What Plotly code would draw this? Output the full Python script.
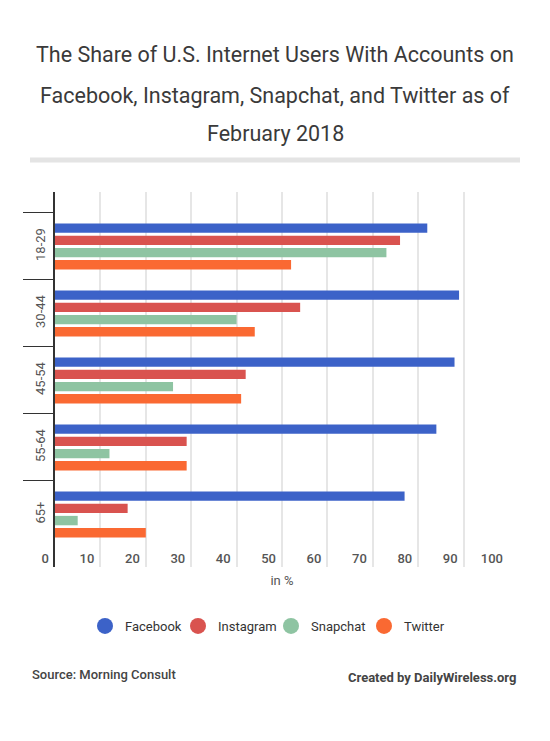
import plotly.graph_objects as go

age_groups = ["18-29", "30-44", "45-54", "55-64", "65+"]
facebook = [82, 89, 88, 84, 77]
instagram = [76, 54, 42, 29, 16]
snapchat = [73, 40, 26, 12, 5]
twitter = [52, 44, 41, 29, 20]
x_ticks = [0, 10, 20, 30, 40, 50, 60, 70, 80, 90, 100]

series = [
    ("Facebook", facebook, "#3C62C8"),
    ("Instagram", instagram, "#D9534F"),
    ("Snapchat", snapchat, "#8EC4A2"),
    ("Twitter", twitter, "#FA6932"),
]

FONT = "Roboto"
fig = go.Figure()
for name, vals, color in series:
    fig.add_trace(go.Bar(
        y=age_groups, x=vals, name=name, orientation="h",
        marker=dict(color=color, line=dict(width=0)),
        showlegend=False, hoverinfo="x+y",
    ))
for name, vals, color in series:
    fig.add_trace(go.Scatter(
        x=[None], y=[None], mode="markers", name=name,
        marker=dict(color=color, size=16, symbol="circle"),
        showlegend=True,
    ))

W, H = 550, 741
L, R, T, B = 55, 41, 192, 174
plot_h = H - T - B


def py(px):
    return (H - B - px) / plot_h


def pxx(px):
    return (px - L) / (W - L - R)


fig.update_layout(
    width=W, height=H,
    margin=dict(l=L, r=R, t=T, b=B, pad=0),
    paper_bgcolor="white", plot_bgcolor="white",
    font=dict(family=FONT, color="#444"),
    barmode="group", bargap=0.27, bargroupgap=0.23,
    showlegend=True,
    legend=dict(orientation="h", x=pxx(85), xanchor="left",
                y=py(626), yanchor="middle",
                font=dict(size=13, color="#333", family=FONT),
                itemwidth=30, entrywidth=48, entrywidthmode="pixels",
                traceorder="normal"),
    xaxis=dict(
        range=[0, 100], tickvals=x_ticks, ticktext=[str(v) for v in x_ticks],
        showgrid=True, gridcolor="#e6e6e6", gridwidth=1.5,
        zeroline=False, showline=False,
        ticks="", ticklabelposition="outside left", ticklabelstandoff=-18,
        ticklabelshift=-6,
        tickfont=dict(size=13, color="#555", family=FONT, weight=500),
        title=dict(text="in %", font=dict(size=13, color="#555", family=FONT), standoff=10),
        fixedrange=True,
    ),
    yaxis=dict(
        type="category", categoryorder="array", categoryarray=age_groups,
        range=[4.784, -0.813],
        showgrid=False, zeroline=False,
        showline=True, linecolor="#333", linewidth=2,
        ticks="outside", tickson="boundaries", ticklen=30, tickcolor="#333", tickwidth=1,
        tickangle=-90, ticklabelstandoff=3,
        tickfont=dict(size=13, color="#555", family=FONT),
        fixedrange=True,
    ),
)

titles = [
    ("The Share of U.S. Internet Users With Accounts on", 54.5),
    ("Facebook, Instagram, Snapchat, and Twitter as of", 95),
    ("February 2018", 133.5),
]
for txt, yp in titles:
    fig.add_annotation(text=txt, xref="paper", yref="paper", x=pxx(275), y=py(yp),
                       xanchor="center", yanchor="middle", showarrow=False,
                       font=dict(size=21.5, color="#3a3a3a", family=FONT))

fig.add_shape(type="line", xref="paper", yref="paper",
              x0=pxx(30), x1=pxx(520), y0=py(160), y1=py(160),
              line=dict(color="#e4e4e4", width=5))

fig.add_annotation(text="Source: Morning Consult", xref="paper", yref="paper",
                   x=pxx(30), y=py(674), xanchor="left", yanchor="middle", showarrow=False,
                   font=dict(size=13, color="#444", family=FONT, weight=500))
fig.add_annotation(text="Created by DailyWireless.org", xref="paper", yref="paper",
                   x=pxx(518), y=py(677), xanchor="right", yanchor="middle", showarrow=False,
                   font=dict(size=13, color="#444", family=FONT, weight=700))

fig.write_html("out.html", config={"displayModeBar": False})
